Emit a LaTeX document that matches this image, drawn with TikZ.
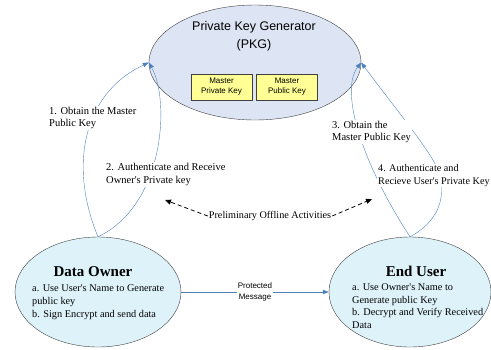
\documentclass[tikz,border=0pt]{standalone}
\usepackage{fontspec}
\setmainfont{Liberation Serif}
\setsansfont{Liberation Sans}
\usetikzlibrary{shapes.geometric,arrows.meta}

\definecolor{pkgfill}{RGB}{221,229,244}
\definecolor{partyfill}{RGB}{222,242,250}
\definecolor{keyfill}{RGB}{255,255,150}
\definecolor{flowblue}{RGB}{79,129,189}
\definecolor{rimgray}{RGB}{64,64,64}
\newcommand{\apos}{\textquotesingle}

\begin{document}
\begin{tikzpicture}[x=1pt,y=-1pt,
  party/.style={ellipse,draw=rimgray,fill=partyfill,inner sep=0pt,minimum height=110pt},
  keybox/.style={draw=rimgray,fill=keyfill,align=center,inner sep=0pt,
    minimum width=61pt,minimum height=26pt,font=\sffamily\fontsize{8}{10}\selectfont},
  flow/.style={draw=flowblue,-{Triangle[length=6pt,width=4.5pt]}},
  offline/.style={draw=black,thick,dash pattern=on 4pt off 3pt,-{Triangle[length=6pt,width=5pt]}},
  steplabel/.style={fill=white,inner sep=1pt,align=left,font=\fontsize{10.5}{12.5}\selectfont},
  partytitle/.style={inner sep=0pt,font=\bfseries\fontsize{15}{18}\selectfont},
  partytext/.style={inner sep=0pt,align=left,anchor=west,font=\fontsize{10.3}{12.7}\selectfont}]
\useasboundingbox (0,0) rectangle (491,349);

%PKG
\node [ellipse,draw=rimgray,fill=pkgfill,inner sep=0pt,minimum width=212pt,minimum height=115pt] (pkg) at (255,62.5) {};
\node [align=center,font=\sffamily\fontsize{12.5}{18}\selectfont] (pkgtitle) at (254,36) {Private Key Generator\\(PKG)};
\node [keybox] (mpriv) at (221.5,87) {Master\\Private Key};
\node [keybox] (mpub) at (287,87) {Master\\Public Key};

%DATA OWNER
\node [party,minimum width=166pt] (owner) at (98,292) {};
\node [partytitle] (ownertitle) at (93,272) {Data Owner};
\node [partytext] (ownertext) at (32,302) {a. Use User\apos s Name to Generate\\public key\\b. Sign Encrypt and send data};

%END USER
\node [party,minimum width=162pt] (user) at (410,292) {};
\node [partytitle] (usertitle) at (416,271) {End User};
\node [partytext] (usertext) at (352,306) {a. Use Owner\apos s Name to\\Generate public Key\\b. Decrypt and Verify Received\\Data};

%OWNER TO PKG
\draw [flow] (owner.north) .. controls (70,170) and (80,95) .. (pkg.west);
\draw [flow] (owner.north) .. controls (165,205) and (170,100) .. (pkg.west);
%USER TO PKG
\draw [flow] (user.north) .. controls (360,160) and (340,90) .. (pkg.east);
\draw [flow] (user.north) .. controls (450,215) and (445,180) .. (433,160)
  .. controls (420,138) and (385,95) .. (pkg.east);

%STEP LABELS
\node [steplabel,anchor=west] (step1) at (48,118) {1. Obtain the Master\\Public Key};
\node [steplabel,anchor=west] (step2) at (105,174.5) {2. Authenticate and Receive\\Owner\apos s Private key};
\node [steplabel,anchor=west] (step3) at (331,132) {3. Obtain the\\Master Public Key};
\node [steplabel,anchor=west,font=\fontsize{10.2}{12.5}\selectfont] (step4) at (377,175.5) {4. Authenticate and\\Recieve User\apos s Private Key};

%OFFLINE ACTIVITIES
\node [inner sep=1pt,font=\fontsize{10.2}{12}\selectfont] (prelim) at (270,216) {Preliminary Offline Activities};
\coordinate (offleft) at (165,200);
\coordinate (offright) at (372,199);
\draw [offline] (prelim.west) -- (offleft);
\draw [offline] (prelim.east) -- (offright);

%PROTECTED MESSAGE
\draw [flow] (owner.east) -- (user.west)
  node [midway,fill=white,inner sep=1pt,align=center,font=\sffamily\fontsize{8}{11}\selectfont] (msg) {Protected\\Message};
\end{tikzpicture}
\end{document}
